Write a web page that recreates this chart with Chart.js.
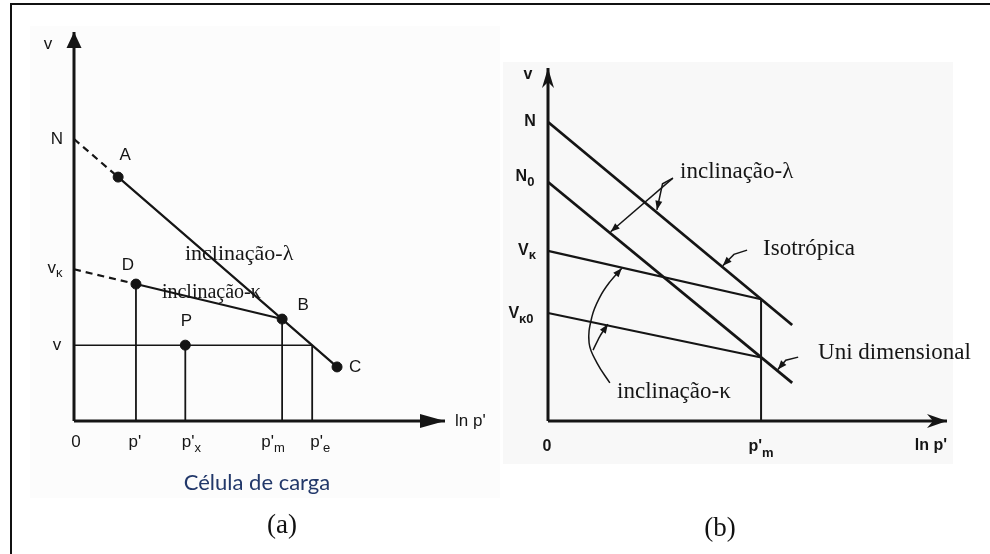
<!DOCTYPE html>
<html lang="pt">
<head>
<meta charset="utf-8">
<title>Linhas de compressão e descarregamento – v x ln p'</title>
<script src="https://cdn.jsdelivr.net/npm/chart.js@4/dist/chart.umd.min.js"></script>
<style>
  html,body{margin:0;padding:0;background:#fff;}
  body{width:990px;height:554px;position:relative;overflow:hidden;}
  .moldura{position:absolute;left:10px;top:3px;width:1000px;height:600px;border-left:2px solid #111;border-top:2px solid #111;}
  .fundoA{position:absolute;left:30px;top:26px;width:470px;height:472px;background:#fcfcfc;}
  .fundoB{position:absolute;left:503px;top:62px;width:450px;height:402px;background:#f8f8f8;}
  canvas{position:absolute;left:0;top:0;}
  .txt{position:absolute;transform:translate(-50%,-50%);white-space:nowrap;line-height:1;}
  .serif{font-family:"Liberation Serif","Times New Roman",serif;font-size:27px;color:#111;}
  .celula{font-family:Lato,"Open Sans",sans-serif;font-size:22px;color:#22386a;}
</style>
</head>
<body>
<div class="moldura"></div>
<div class="fundoA"></div>
<div class="fundoB"></div>
<canvas id="graficoA" width="990" height="554"></canvas>
<canvas id="graficoB" width="990" height="554"></canvas>
<div class="txt celula" style="left:257px;top:482px">Célula de carga</div>
<div class="txt serif" style="left:282px;top:524px">(a)</div>
<div class="txt serif" style="left:720px;top:527px">(b)</div>

<script>
// ===== painel (a): célula de carga =====
const pontosNome = ['A', 'B', 'C', 'D', 'P'];
const pontosX    = [1.19, 5.61, 7.09, 1.67, 3.00];
const pontosY    = [6.27, 2.62, 1.39, 3.52, 1.95];
const vN     = 7.25;   // intercepto da linha λ
const vK     = 3.90;   // intercepto da linha κ
const vAtual = 1.95;   // volume específico atual
const ticksAx   = [0, 1.67, 3.00, 5.61, 6.42];
const ticksATxt = ['0', "p'", "p'", "p'", "p'"];
const ticksASub = ['', '', 'x', 'm', 'e'];

// ===== painel (b): isotrópica x unidimensional =====
const linhasNome = ['N', 'N0', 'Vκ', 'Vκ0'];
const linhasY0   = [8.47, 6.77, 4.82, 3.06];
const linhasX1   = [6.12, 6.12, 5.34, 5.34];
const linhasY1   = [2.72, 1.08, 3.45, 1.80];
const pmB = 5.34;

// setas de indicação (b)
const setaLambda1 = [[3.13, 6.88], [1.57, 5.36]];
const setaLambda2 = [[3.13, 6.88], [2.87, 6.72], [2.73, 5.98]];
const setaIso     = [[4.99, 4.84], [4.66, 4.72], [4.38, 4.40]];
const setaUni     = [[6.27, 1.81], [5.96, 1.72], [5.76, 1.46]];
const curvaKappa  = [[1.55, 1.08], [1.23, 1.64], [1.03, 2.21], [1.10, 2.95], [1.30, 3.51], [1.55, 3.94], [1.85, 4.33]];
const ramoKappa   = [[1.13, 2.01], [1.30, 2.40], [1.50, 2.74]];

const COR = '#151515';
const SANS = '"Liberation Sans", Arial, sans-serif';
const SERIF = '"Liberation Serif", "Times New Roman", serif';

function seg(pts, extra){
  return Object.assign({
    data: pts.map(p => ({x: p[0], y: p[1]})),
    showLine: true, pointRadius: 0, borderColor: COR, borderWidth: 2,
    borderCapStyle: 'butt', fill: false, clip: false, tension: 0
  }, extra || {});
}

function ponta(ctx, x0, y0, x1, y1, s){
  const ang = Math.atan2(y1 - y0, x1 - x0);
  ctx.save();
  ctx.translate(x1, y1); ctx.rotate(ang);
  ctx.beginPath();
  ctx.moveTo(0, 0);
  ctx.lineTo(-s.len, -s.half);
  ctx.lineTo(-s.len * (1 - (s.notch || 0)), 0);
  ctx.lineTo(-s.len, s.half);
  ctx.closePath();
  ctx.fill();
  ctx.restore();
}

// pontas de seta no último segmento dos datasets marcados
const pluginSetas = {
  id: 'setas',
  afterDatasetsDraw(chart){
    const ctx = chart.ctx;
    ctx.save();
    ctx.fillStyle = COR;
    chart.data.datasets.forEach((ds, i) => {
      if(!ds.seta) return;
      const el = chart.getDatasetMeta(i).data;
      const a = el[el.length - 2], b = el[el.length - 1];
      ponta(ctx, a.x, a.y, b.x, b.y, ds.seta);
    });
    ctx.restore();
  }
};

// textos com subscrito opcional, posicionados pelas escalas
function pluginRotulos(itens){
  return {
    id: 'rotulos',
    afterDatasetsDraw(chart){
      const ctx = chart.ctx, sx = chart.scales.x, sy = chart.scales.y;
      ctx.save();
      ctx.textBaseline = 'middle';
      ctx.textAlign = 'left';
      ctx.fillStyle = COR;
      itens.forEach(r => {
        const px = sx.getPixelForValue(r.x) + (r.dx || 0);
        const py = sy.getPixelForValue(r.y) + (r.dy || 0);
        ctx.font = r.fonte;
        const w1 = ctx.measureText(r.txt).width;
        let w2 = 0;
        if(r.sub){ ctx.font = r.fonteSub; w2 = ctx.measureText(r.sub).width; }
        const tot = w1 + w2;
        const x0 = r.alinha === 'left' ? px : r.alinha === 'right' ? px - tot : px - tot / 2;
        ctx.font = r.fonte;
        ctx.fillText(r.txt, x0, py);
        if(r.sub){ ctx.font = r.fonteSub; ctx.fillText(r.sub, x0 + w1, py + (r.subDy || 5)); }
      });
      ctx.restore();
    }
  };
}

function opcoes(pad){
  return {
    responsive: false, animation: false, events: [],
    layout: {padding: pad},
    plugins: {legend: {display: false}, tooltip: {enabled: false}},
    scales: {
      x: {type: 'linear', min: 0, max: 10, display: false},
      y: {type: 'linear', min: 0, max: 10, display: false}
    }
  };
}

// ===== gráfico (a) =====
const P = i => [pontosX[i], pontosY[i]];
const topoVert = [null, pontosY[3], pontosY[4], pontosY[1], vAtual];

const dsA = [
  seg([[0, 0], [0, 10]], {borderWidth: 3, seta: {len: 16, half: 7.5}}),
  seg([[0, 0], [10, 0]], {borderWidth: 3, seta: {len: 25, half: 7}}),
  seg([[0, vN], P(0)], {borderDash: [7, 5], borderWidth: 2.2}),
  seg([P(0), P(1), P(2)], {borderWidth: 2.2}),
  seg([[0, vK], P(3)], {borderDash: [7, 5], borderWidth: 2.2}),
  seg([P(3), P(1)], {borderWidth: 2}),
  seg([[0, vAtual], [ticksAx[4], vAtual]], {borderWidth: 1.5})
];
for(let i = 1; i < ticksAx.length; i++){
  dsA.push(seg([[ticksAx[i], 0], [ticksAx[i], topoVert[i]]], {borderWidth: 1.8}));
}
dsA.push({
  data: pontosX.map((x, i) => ({x, y: pontosY[i]})),
  showLine: false, pointRadius: 5, backgroundColor: COR, borderColor: COR, clip: false
});

const fA = '17px ' + SANS, fAsub = '13px ' + SANS;
const desvioPontos = [[7, -22], [21, -14], [18, 0], [-8, -19], [1, -24]];
const desvioTicksA = [2, -1, 6, -9, 8];
const itensA = [
  {x: 0, y: 10, txt: 'v', dx: -26, dy: 12, fonte: fA},
  {x: 0, y: vN, txt: 'N', dx: -17, fonte: fA},
  {x: 0, y: vK, txt: 'v', sub: 'κ', dx: -19, dy: -1, fonte: fA, fonteSub: fAsub, subDy: 5},
  {x: 0, y: vAtual, txt: 'v', dx: -17, fonte: fA},
  {x: 10, y: 0, txt: "ln p'", dx: 10, alinha: 'left', fonte: fA},
  {x: 2.99, y: 4.29, txt: 'inclinação-λ', alinha: 'left', fonte: '22px ' + SERIF},
  {x: 2.37, y: 3.29, txt: 'inclinação-κ', alinha: 'left', fonte: '20px ' + SERIF}
];
pontosNome.forEach((n, i) => itensA.push({x: pontosX[i], y: pontosY[i], txt: n,
  dx: desvioPontos[i][0], dy: desvioPontos[i][1], fonte: fA}));
ticksATxt.forEach((t, i) => itensA.push({x: ticksAx[i], y: 0, txt: t, sub: ticksASub[i],
  dx: desvioTicksA[i], dy: 21, fonte: fA, fonteSub: fAsub, subDy: 6}));

new Chart(document.getElementById('graficoA'), {
  type: 'scatter',
  data: {datasets: dsA},
  options: opcoes({left: 74, right: 545, top: 32, bottom: 133}),
  plugins: [pluginSetas, pluginRotulos(itensA)]
});

// ===== gráfico (b) =====
const pontaFina = {len: 9, half: 3.5};
const dsB = [
  seg([[0, 0], [0, 10]], {borderWidth: 3, seta: {len: 20, half: 6, notch: 0.3}}),
  seg([[0, 0], [10, 0]], {borderWidth: 3, seta: {len: 20, half: 7, notch: 0.3}})
];
linhasY0.forEach((y0, i) => dsB.push(seg([[0, y0], [linhasX1[i], linhasY1[i]]],
  {borderWidth: i < 2 ? 2.8 : 2.2})));
dsB.push(seg([[pmB, 0], [pmB, linhasY1[2]]], {borderWidth: 2}));
[setaLambda1, setaLambda2, setaIso, setaUni].forEach(s =>
  dsB.push(seg(s, {borderWidth: 1.5, seta: pontaFina})));
dsB.push(seg(curvaKappa, {borderWidth: 1.5, tension: 0.4, seta: pontaFina}));
dsB.push(seg(ramoKappa, {borderWidth: 1.5, tension: 0.3, seta: pontaFina}));

const fB = 'bold 16px ' + SANS, fBsub = 'bold 13px ' + SANS;
const fSerif = '23px ' + SERIF;
const itensB = [
  {x: 0, y: 10, txt: 'v', dx: -20, dy: 7, fonte: fB},
  {x: 0, y: linhasY0[0], txt: 'N', dx: -18, fonte: fB},
  {x: 0, y: linhasY0[1], txt: 'N', sub: '0', dx: -23, dy: -5, fonte: fB, fonteSub: fBsub, subDy: 5},
  {x: 0, y: linhasY0[2], txt: 'V', sub: 'κ', dx: -21, fonte: fB, fonteSub: fBsub, subDy: 5},
  {x: 0, y: linhasY0[3], txt: 'V', sub: 'κ0', dx: -27, dy: 1, fonte: fB, fonteSub: fBsub, subDy: 5},
  {x: 0, y: 0, txt: '0', dx: -1, dy: 26, fonte: fB},
  {x: pmB, y: 0, txt: "p'", sub: 'm', dy: 26, fonte: fB, fonteSub: fBsub, subDy: 6},
  {x: 10, y: 0, txt: "ln p'", dy: 25, alinha: 'right', fonte: fB},
  {x: 3.31, y: 7.05, txt: 'inclinação-λ', alinha: 'left', fonte: fSerif},
  {x: 5.39, y: 4.87, txt: 'Isotrópica', alinha: 'left', fonte: fSerif},
  {x: 6.77, y: 1.93, txt: 'Uni dimensional', alinha: 'left', fonte: fSerif},
  {x: 1.73, y: 0.82, txt: 'inclinação-κ', alinha: 'left', fonte: fSerif}
];

new Chart(document.getElementById('graficoB'), {
  type: 'scatter',
  data: {datasets: dsB},
  options: opcoes({left: 548, right: 43, top: 68, bottom: 133}),
  plugins: [pluginSetas, pluginRotulos(itensB)]
});
</script>
</body>
</html>
